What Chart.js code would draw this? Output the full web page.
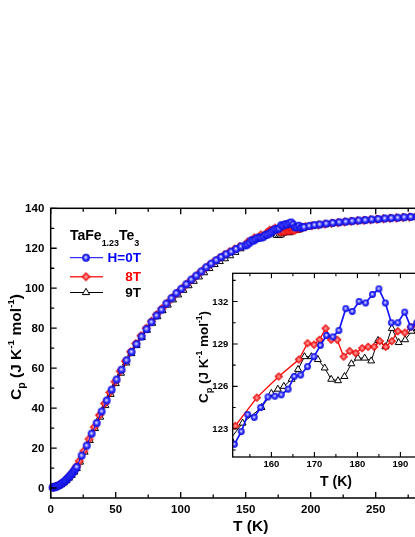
<!DOCTYPE html>
<html><head><meta charset="utf-8">
<script src="https://cdn.jsdelivr.net/npm/chart.js@4/dist/chart.umd.min.js"></script>
<style>
html,body{margin:0;padding:0;background:#fff;width:415px;height:537px;overflow:hidden;position:relative;}
canvas{position:absolute;}
#main{left:0;top:0;}
#inset{left:180px;top:262px;}
</style></head><body>
<canvas id="main" width="460" height="537" style="width:460px;height:537px"></canvas>
<canvas id="inset" width="280" height="240" style="width:280px;height:240px"></canvas>
<script>
// ================= DATA =================
// Main panel, H = 0 T (T in K, Cp in J K^-1 mol^-1)
const mainT_H0_low  = [1.5,2,2.5,3,3.5,4,5,6,7,8,9,10,11,12,13,14,15,16,17,18,19,20,23.8,27.7,31.5,35.4,39.2,43.1,46.9,50.7,54.5,58.4,62.2,66,69.9,73.7,77.5,81.4,85.2,89,92.9,96.7,100.5,104.4,108.2,112,115.9,119.7,123.5,127.4,131.2,135,138.9,142.7,146.5,149.9];
const mainCp_H0_low = [0.3,0.35,0.4,0.5,0.6,0.7,0.9,1.2,1.6,2.0,2.5,3.0,3.5,4.1,4.8,5.5,6.2,6.9,7.7,8.6,9.5,10.5,16.2,21.2,27.2,32.5,38.3,43.8,49.2,54.3,59.2,63.9,68.1,72,75.8,79.5,83,86.3,89.2,92.3,95,97.5,99.7,102,104.3,106.3,108.4,110.5,112.3,114,115.6,117,118.3,119.6,120.9,121.4];
const mainT_H0_high  = [195,199,203,207,212,217,222,227,232,237,242,247,252,257,262,267,272,277,282];
const mainCp_H0_high = [130.6,131.2,131.6,131.9,132.3,132.7,133.0,133.3,133.6,133.9,134.1,134.4,134.6,134.9,135.1,135.3,135.5,135.7,135.9];

// Main panel, 8 T
const mainT_8T_low  = [2,4,6,8,10,12,14,16,18,20,22,25.5,29.5,33.5,37.5,41.5,45.5,49.5,53.5,57.5,61.5,65.5,69.5,73.5,77.5,81.5,85.5,89.5,93.5,97.5,101.5,105.5,109.5,113.5,117.5,121.5,125.5,129.5,133.5,137.5,141.5,145.5];
const mainCp_8T_low = [0.4,0.8,1.3,2.1,3.1,4.3,5.7,7.2,9.0,11.0,13.5,18.5,24.5,30.5,36.5,42.3,47.8,53.2,58.5,63.5,68.2,72.3,76.2,80,83.5,86.8,89.8,92.6,95.3,97.8,100.2,102.6,104.9,107.1,109.3,111.3,113.2,115,116.7,118.2,119.6,120.9];
const mainT_8T_high  = [196,201,206,211,216,221,226,231,236,241,246,251,256,261,266,271,276,281];
const mainCp_8T_high = [130.8,131.3,131.7,132.1,132.5,132.8,133.2,133.5,133.8,134.0,134.3,134.5,134.8,135.0,135.2,135.4,135.6,135.8];

// Main panel, 9 T
const mainT_9T_low  = [2,4,6,8,10,12,14,16,18,20,22.5,26,30,34,38,42,46,50,54,58,62,66,70,74,78,82,86,90,94,98,102,106,110,114,118,122,126,130,134,138,142,146];
const mainCp_9T_low = [0.3,0.6,1.0,1.7,2.6,3.7,5.0,6.4,8.0,9.8,13,18,23.8,29.8,35.5,41.3,46.9,52.3,57.5,62.6,67.3,71.4,75.4,79,82.5,85.8,88.8,91.6,94.2,96.7,99,101.3,103.5,105.7,107.8,109.9,111.9,113.4,114.8,116.3,118.0,119.8];
const mainT_9T_high  = [196,201,206,211,216,221,226,231,236,241,246,251,256,261,266,271,276,281];
const mainCp_9T_high = [130.5,131.0,131.5,131.9,132.3,132.6,133.0,133.3,133.6,133.8,134.1,134.4,134.6,134.9,135.1,135.3,135.5,135.7];

// Inset (transition region)
const insetT_H0  = [151.4,153.0,154.5,156.0,157.5,159.2,160.8,162.3,163.9,165.3,166.8,168.4,169.9,171.4,172.8,174.3,175.7,177.3,178.8,180.4,181.9,183.5,185.0,186.5,187.9,189.4,191.0,192.4,193.8];
const insetCp_H0 = [121.9,122.8,124.0,123.8,124.5,125.25,125.3,125.4,125.8,126.7,126.8,127.4,128.1,128.9,129.6,129.5,129.95,131.5,131.3,132.0,131.9,132.5,132.9,131.9,130.5,130.5,131.25,130.2,130.5];
const insetT_8T  = [149.9,151.6,156.6,161.7,166.4,168.4,169.9,171.2,172.6,173.9,175.3,176.8,178.2,179.6,181.1,182.5,183.9,185.2,186.6,188.0,189.4,191.0,192.4,193.8];
const insetCp_8T = [122.5,123.2,125.2,126.7,127.9,129.05,128.95,129.3,130.1,129.3,129.3,128.1,128.5,128.35,128.7,128.8,128.8,129.2,128.8,129.2,129.9,129.8,130.2,130.4];
const insetT_9T  = [150.5,153.3,157.7,160.0,161.5,162.9,164.7,166.2,167.7,169.3,170.8,172.4,173.9,175.5,177.0,178.6,180.1,181.7,183.2,184.8,186.5,188.0,189.6,191.1,192.6,194.0];
const insetCp_9T = [122.3,123.4,124.5,125.5,125.8,126.0,126.5,127.2,128.1,128.1,127.9,127.3,126.5,126.4,126.7,127.6,128.0,128.0,127.8,129.25,128.8,130.1,129.1,129.3,129.9,130.1];

// Axis ticks / labels
const mainXMajor = [0,50,100,150,200,250,300];
const mainXMinor = [25,75,125,175,225,275];
const mainYMajor = [0,20,40,60,80,100,120,140];
const mainYMinor = [10,30,50,70,90,110,130];
const insetXMajor = [160,170,180,190,200];
const insetXMinor = [155,165,175,185,195];
const insetYMajor = [123,126,129,132];
const insetYMinor = [121.5,124.5,127.5,130.5,133.5];

const legendTitle = [['TaFe',1,0],['1.23',0.64,0.42],['Te',1,0],['3',0.64,0.42]];
const seriesNames = ['H=0T','8T','9T'];
const yTitleParts = [['C',1,0],['p',0.68,0.28],[' (J K',1,0],['-1',0.64,-0.42],[' mol',1,0],['-1',0.64,-0.42],[')',1,0]];
const xTitleText = 'T (K)';

// ================= STYLE HELPERS =================
const FONT = '"Liberation Sans", Arial, Helvetica, sans-serif';
Chart.defaults.font.family = FONT;
const BLUE = '#0000ff', RED = '#ff0000';

function ballImg(r){
  const s = Math.ceil(r*2+2), c = document.createElement('canvas');
  c.width = c.height = s;
  const g = c.getContext('2d'), cx = s/2, cy = s/2;
  const grd = g.createRadialGradient(cx - r*0.1, cy - r*0.15, 0, cx, cy, r);
  grd.addColorStop(0, '#ffffff'); grd.addColorStop(0.28, '#9a9aff');
  grd.addColorStop(0.6, '#2a2aff'); grd.addColorStop(1, '#0a0ad8');
  g.fillStyle = grd; g.beginPath(); g.arc(cx, cy, r, 0, Math.PI*2); g.fill();
  return c;
}
function diamondImg(r){
  const s = Math.ceil(r*2+2), c = document.createElement('canvas');
  c.width = c.height = s;
  const g = c.getContext('2d'), cx = s/2, cy = s/2;
  const grd = g.createRadialGradient(cx, cy, 0, cx, cy, r);
  grd.addColorStop(0, '#ffd0d0'); grd.addColorStop(0.35, '#ff6060'); grd.addColorStop(1, '#ee0000');
  g.fillStyle = grd; g.strokeStyle = '#e00000'; g.lineWidth = 1;
  g.beginPath(); g.moveTo(cx, cy-r); g.lineTo(cx+r, cy); g.lineTo(cx, cy+r); g.lineTo(cx-r, cy); g.closePath();
  g.fill(); g.stroke();
  return c;
}
const blueMain = ballImg(3.9), blueInset = ballImg(3.4);
const redMain = diamondImg(4.2), redInset = diamondImg(3.8);

function pts(T, C){ return T.map((t,i)=>({x:t, y:C[i]})); }

function drawRich(ctx, parts, x, y, size, align, color){
  let total = 0;
  for (const p of parts){ ctx.font = `bold ${size*p[1]}px ${FONT}`; total += ctx.measureText(p[0]).width; }
  let cx = align==='center' ? x - total/2 : (align==='right' ? x - total : x);
  ctx.fillStyle = color || '#000'; ctx.textAlign = 'left'; ctx.textBaseline = 'alphabetic';
  for (const p of parts){
    ctx.font = `bold ${size*p[1]}px ${FONT}`;
    ctx.fillText(p[0], cx, y + p[2]*size);
    cx += ctx.measureText(p[0]).width;
  }
}

const framePlugin = {
  id: 'frame',
  beforeDatasetsDraw(chart, args, o){
    if (!o.fill) return;
    const a = chart.chartArea, ctx = chart.ctx;
    ctx.save(); ctx.fillStyle = '#fff';
    ctx.fillRect(a.left, a.top, a.right-a.left, a.bottom-a.top); ctx.restore();
  },
  afterDraw(chart, args, o){
    const a = chart.chartArea, ctx = chart.ctx, xs = chart.scales.x, ys = chart.scales.y;
    ctx.save();
    ctx.strokeStyle = '#000'; ctx.lineWidth = o.lw;
    ctx.strokeRect(a.left, a.top, a.right-a.left, a.bottom-a.top);
    ctx.lineWidth = o.tw;
    const tick = (vals, len) => {
      for (const v of vals){
        const px = xs.getPixelForValue(v);
        ctx.beginPath(); ctx.moveTo(px, a.bottom); ctx.lineTo(px, a.bottom-len);
        ctx.moveTo(px, a.top); ctx.lineTo(px, a.top+len); ctx.stroke();
      }
    };
    const ytick = (vals, len) => {
      for (const v of vals){
        const py = ys.getPixelForValue(v);
        ctx.beginPath(); ctx.moveTo(a.left, py); ctx.lineTo(a.left+len, py);
        ctx.moveTo(a.right, py); ctx.lineTo(a.right-len, py); ctx.stroke();
      }
    };
    tick(o.xMajor, o.major); tick(o.xMinor, o.minor);
    ytick(o.yMajor, o.major); ytick(o.yMinor, o.minor);
    ctx.fillStyle = '#000';
    ctx.font = `bold ${o.tickSize}px ${FONT}`;
    ctx.textAlign = 'center'; ctx.textBaseline = 'middle';
    for (const v of o.xMajor){ ctx.fillText(String(v), xs.getPixelForValue(v), a.bottom + o.xLabOff); }
    ctx.textAlign = 'right';
    for (const v of o.yMajor){ ctx.fillText(String(v), a.left - o.yLabOff, ys.getPixelForValue(v) + 0.5); }
    // x title
    ctx.font = `bold ${o.xTitle.size}px ${FONT}`;
    ctx.textAlign = 'center'; ctx.textBaseline = 'middle';
    ctx.fillText(xTitleText, o.xTitle.x, o.xTitle.y);
    // y title (rotated)
    ctx.save(); ctx.translate(o.yTitle.x, o.yTitle.y); ctx.rotate(-Math.PI/2);
    drawRich(ctx, yTitleParts, 0, 0, o.yTitle.size, 'center', '#000');
    ctx.restore();
    ctx.restore();
  }
};

const legendPlugin = {
  id: 'legendBox',
  afterDraw(chart){
    const ctx = chart.ctx;
    ctx.save();
    drawRich(ctx, legendTitle, 70, 240, 14, 'left', '#000');
    const rows = [
      {name: seriesNames[0], color: BLUE, y: 257.7, line: BLUE, lw: 1, mk: 'ball'},
      {name: seriesNames[1], color: RED, y: 276.7, line: '#ff3030', lw: 1.6, mk: 'dia'},
      {name: seriesNames[2], color: '#000', y: 292.5, line: '#000', lw: 1, mk: 'tri'}
    ];
    for (const r of rows){
      ctx.strokeStyle = r.line; ctx.lineWidth = r.lw;
      ctx.beginPath(); ctx.moveTo(70, r.y); ctx.lineTo(103, r.y); ctx.stroke();
      if (r.mk === 'ball') ctx.drawImage(blueMain, 86 - blueMain.width/2, r.y - blueMain.height/2);
      else if (r.mk === 'dia') ctx.drawImage(redMain, 86 - redMain.width/2, r.y - redMain.height/2);
      else {
        const rad = 4.2, cx = 86, cy = r.y;
        ctx.fillStyle = '#fff'; ctx.strokeStyle = '#000'; ctx.lineWidth = 1;
        ctx.beginPath();
        for (let k = 0; k < 3; k++){ const ang = k*2*Math.PI/3; const px = cx + Math.sin(ang)*rad, py = cy - Math.cos(ang)*rad; k ? ctx.lineTo(px,py) : ctx.moveTo(px,py); }
        ctx.closePath(); ctx.fill(); ctx.stroke();
      }
      ctx.fillStyle = r.color; ctx.font = `bold 13.5px ${FONT}`;
      ctx.textAlign = 'right'; ctx.textBaseline = 'middle';
      ctx.fillText(r.name, 141, r.y + 0.5);
    }
    ctx.restore();
  }
};

// ================= MAIN CHART =================
new Chart(document.getElementById('main'), {
  type: 'scatter',
  data: { datasets: [
    { label: seriesNames[0], data: pts([...mainT_H0_low, ...insetT_H0, ...mainT_H0_high], [...mainCp_H0_low, ...insetCp_H0, ...mainCp_H0_high]),
      showLine: true, borderColor: BLUE, borderWidth: 1, pointStyle: blueMain, pointRadius: 4, clip: false },
    { label: seriesNames[1], data: pts([...mainT_8T_low, ...insetT_8T.slice(1), ...mainT_8T_high], [...mainCp_8T_low, ...insetCp_8T.slice(1), ...mainCp_8T_high]),
      showLine: true, borderColor: RED, borderWidth: 1, pointStyle: redMain, pointRadius: 4, clip: false },
    { label: seriesNames[2], data: pts([...mainT_9T_low, ...insetT_9T.slice(1), ...mainT_9T_high], [...mainCp_9T_low, ...insetCp_9T.slice(1), ...mainCp_9T_high]),
      showLine: true, borderColor: '#000', borderWidth: 1, pointStyle: 'triangle', pointRadius: 4.2,
      pointBackgroundColor: '#fff', pointBorderColor: '#000', pointBorderWidth: 1, clip: false }
  ]},
  options: {
    responsive: false, devicePixelRatio: 1, animation: false,
    layout: { padding: { left: 50.7, top: 208.3, right: 19.3, bottom: 39 } },
    scales: {
      x: { type: 'linear', min: 0, max: 300, display: false },
      y: { type: 'linear', min: -5, max: 140, display: false }
    },
    plugins: {
      legend: { display: false }, tooltip: { enabled: false },
      frame: { fill: false, lw: 1.5, tw: 1.3, major: 6, minor: 3.5,
        xMajor: mainXMajor, xMinor: mainXMinor, yMajor: mainYMajor, yMinor: mainYMinor,
        tickSize: 11.5, xLabOff: 11.5, yLabOff: 6.4,
        xTitle: { x: 250.7, y: 527, size: 15.5 },
        yTitle: { x: 21, y: 347, size: 15.5 } }
    }
  },
  plugins: [framePlugin, legendPlugin]
});

// ================= INSET CHART =================
new Chart(document.getElementById('inset'), {
  type: 'scatter',
  data: { datasets: [
    { label: seriesNames[0], data: pts(insetT_H0, insetCp_H0), showLine: true, borderColor: '#1414ff', borderWidth: 1.7,
      pointStyle: blueInset, pointRadius: 3.5 },
    { label: seriesNames[1], data: pts(insetT_8T, insetCp_8T), showLine: true, borderColor: RED, borderWidth: 1.3,
      pointStyle: redInset, pointRadius: 3.5 },
    { label: seriesNames[2], data: pts(insetT_9T, insetCp_9T), showLine: true, borderColor: '#000', borderWidth: 1,
      pointStyle: 'triangle', pointRadius: 4, pointBackgroundColor: '#fff', pointBorderColor: '#000', pointBorderWidth: 1 }
  ]},
  options: {
    responsive: false, devicePixelRatio: 1, animation: false,
    layout: { padding: { left: 52.7, top: 11.3, right: 16.6, bottom: 45 } },
    scales: {
      x: { type: 'linear', min: 151, max: 200, display: false },
      y: { type: 'linear', min: 121, max: 134, display: false }
    },
    plugins: {
      legend: { display: false }, tooltip: { enabled: false },
      frame: { fill: true, lw: 1.3, tw: 1.1, major: 5, minor: 3,
        xMajor: insetXMajor, xMinor: insetXMinor, yMajor: insetYMajor, yMinor: insetYMinor,
        tickSize: 9.5, xLabOff: 7.5, yLabOff: 4.5,
        xTitle: { x: 156, y: 219.7, size: 14 },
        yTitle: { x: 28, y: 95, size: 13.5 } }
    }
  },
  plugins: [framePlugin]
});
</script>
</body></html>
